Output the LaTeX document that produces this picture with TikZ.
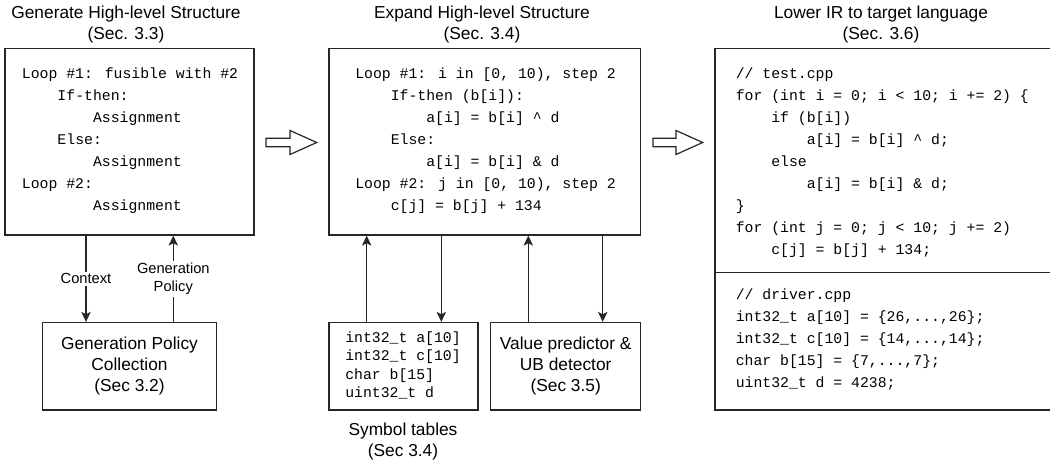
\documentclass[tikz,border=0pt]{standalone}
\usepackage{fontspec}
\setmainfont{Liberation Sans}
\newfontfamily\codefont{Liberation Mono}
\usetikzlibrary{arrows.meta,fit}
\newcommand\ind[1]{\hspace*{#1\fontcharwd\font`0}}
\begin{document}
\begin{tikzpicture}[x=0.75pt,y=-0.75pt,
  line/.style={draw=black!85, line width=0.9pt},
  box/.style={line, inner sep=0pt},
  code/.style={anchor=base west, inner sep=0pt, font=\codefont\fontsize{11.1}{16.5}\selectfont},
  tightcode/.style={anchor=base west, inner sep=0pt, font=\codefont\fontsize{11.1}{13.7}\selectfont},
  title/.style={align=center, inner sep=0pt, font=\fontsize{13}{15.75}\selectfont},
  boxtext/.style={align=center, inner sep=0pt, font=\fontsize{13}{15.75}\selectfont},
  lbl/.style={align=center, fill=white, inner sep=1.5pt, font=\fontsize{11}{13.5}\selectfont},
  arr/.style={line, -{Stealth[length=7.5pt,width=7pt,inset=1.8pt]}},
  hollow/.style={line, fill=white, line join=miter}
]
\clip (0,0) rectangle (1050,466);
\fill[white] (0,0) rectangle (1050,466);

% titles
\node[title] (t1) at (126,24.5) {Generate High-level Structure\\(Sec. 3.3)};
\node[title] (t2) at (482,24.5) {Expand High-level Structure\\(Sec. 3.4)};
\node[title] (t3) at (881,24.5) {Lower IR to target language\\(Sec. 3.6)};

% left box
\node[box, fit={(5,48.5) (254,235)}] (lb) {};
\node[code] (lbt) at (21.7,79) {\begin{tabular}[t]{@{}l@{}}
Loop \#1: fusible with \#2\\
\ind{4}If-then:\\
\ind{8}Assignment\\
\ind{4}Else:\\
\ind{8}Assignment\\
Loop \#2:\\
\ind{8}Assignment
\end{tabular}};

% generation policy collection
\node[box, fit={(42.3,322.5) (216.7,410)}] (gpc) {};
\node[boxtext] (gpct) at (129.5,366) {Generation Policy\\Collection\\(Sec 3.2)};

\coordinate (xc) at (86,0);
\coordinate (xg) at (173.3,0);
\draw[arr] (lb.south -| xc) -- node[lbl] (lctx) {Context} (gpc.north -| xc);
\draw[arr] (gpc.north -| xg) -- node[lbl] (lgp) {Generation\\Policy} (lb.south -| xg);

% hollow arrow 1
\draw[hollow] (266,138.3) -- (290,138.3) -- (290,130.5) -- (316.7,142.5) -- (290,154.5) -- (290,146.7) -- (266,146.7) -- cycle;

% middle box
\node[box, fit={(329,48.5) (640.7,235)}] (mb) {};
\node[code] (mbt) at (355,79) {\begin{tabular}[t]{@{}l@{}}
Loop \#1: i in [0, 10), step 2\\
\ind{4}If-then (b[i]):\\
\ind{8}a[i] = b[i] \textasciicircum{} d\\
\ind{4}Else:\\
\ind{8}a[i] = b[i] \& d\\
Loop \#2: j in [0, 10), step 2\\
\ind{4}c[j] = b[j] + 134
\end{tabular}};

% symbol table box
\node[box, fit={(329,322.5) (478,410)}] (sym) {};
\node[tightcode] (symt) at (345,342.5) {\begin{tabular}[t]{@{}l@{}}
int32\_t a[10]\\
int32\_t c[10]\\
char b[15]\\
uint32\_t d
\end{tabular}};
\node[boxtext] (symlbl) at (403,442) {Symbol tables\\(Sec 3.4)};

% value predictor box
\node[box, fit={(490.7,322.5) (640.7,410)}] (vp) {};
\node[boxtext] (vpt) at (565.7,366) {Value predictor \&\\UB detector\\(Sec 3.5)};

\coordinate (x1) at (366.7,0);
\coordinate (x2) at (441.3,0);
\coordinate (x3) at (528.3,0);
\coordinate (x4) at (602.7,0);
\draw[arr] (sym.north -| x1) -- (mb.south -| x1);
\draw[arr] (mb.south -| x2) -- (sym.north -| x2);
\draw[arr] (vp.north -| x3) -- (mb.south -| x3);
\draw[arr] (mb.south -| x4) -- (vp.north -| x4);

% hollow arrow 2
\draw[hollow] (653,138.3) -- (676,138.3) -- (676,130.5) -- (702.7,142.5) -- (676,154.5) -- (676,146.7) -- (653,146.7) -- cycle;

% right box
\node[box, fit={(715,48.5) (1062,410)}] (rb) {};
\coordinate (rdiv) at (715,272.5);
\draw[line] (rdiv) -- (rdiv -| rb.east);
\node[code] (rbt) at (735.5,78.5) {\begin{tabular}[t]{@{}l@{}}
// test.cpp\\
for (int i = 0; i < 10; i += 2) \{\\
\ind{4}if (b[i])\\
\ind{8}a[i] = b[i] \textasciicircum{} d;\\
\ind{4}else\\
\ind{8}a[i] = b[i] \& d;\\
\}\\
for (int j = 0; j < 10; j += 2)\\
\ind{4}c[j] = b[j] + 134;
\end{tabular}};
\node[code] (rbd) at (735.5,300) {\begin{tabular}[t]{@{}l@{}}
// driver.cpp\\
int32\_t a[10] = \{26,...,26\};\\
int32\_t c[10] = \{14,...,14\};\\
char b[15] = \{7,...,7\};\\
uint32\_t d = 4238;
\end{tabular}};
\end{tikzpicture}
\end{document}
